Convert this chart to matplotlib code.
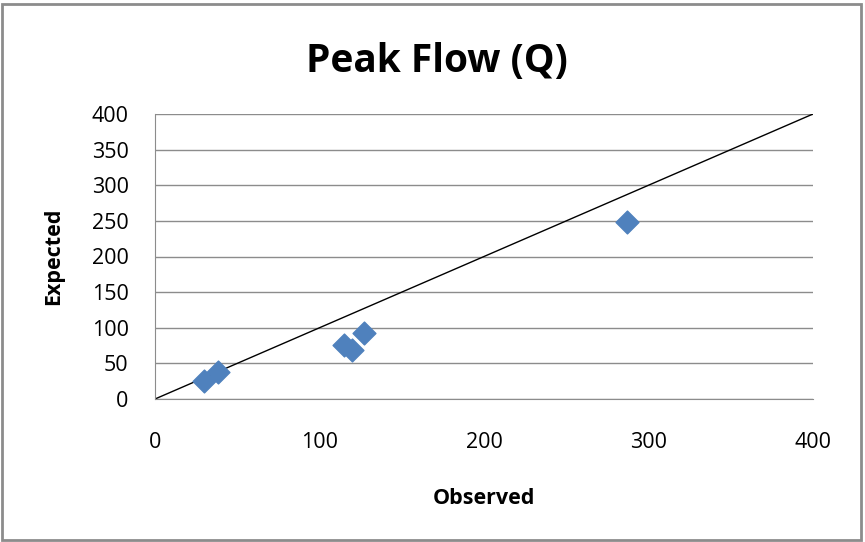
import matplotlib
matplotlib.use('Agg')
from matplotlib import pyplot as plt
from matplotlib.patches import Rectangle

# data
observed = [30, 38, 115, 120, 127, 287]
expected = [25, 38, 76, 69, 92, 248]
line_x = [0, 400]
line_y = [0, 400]
x_ticks = [0, 100, 200, 300, 400]
y_ticks = [0, 50, 100, 150, 200, 250, 300, 350, 400]

plt.rcParams['font.family'] = ['Open Sans', 'DejaVu Sans']

W, H = 865, 542
fig = plt.figure(figsize=(W / 100, H / 100), dpi=100)
ax = fig.add_axes([155 / W, 1 - 399 / H, (813 - 155) / W, (399 - 114) / H])

ax.grid(axis='y', color='#8c8c8c', linewidth=1)
ax.set_axisbelow(True)
ax.plot(line_x, line_y, color='black', linewidth=1)
ax.scatter(observed, expected, marker='D', s=135, color='#4f81bd', zorder=3)

ax.set_xlim(0, 400)
ax.set_ylim(0, 400)
ax.set_xticks(x_ticks)
ax.set_yticks(y_ticks)
ax.tick_params(length=0, labelsize=15.5, colors='black')
ax.tick_params(axis='x', pad=24)
ax.tick_params(axis='y', pad=19)
for side in ['top', 'right']:
    ax.spines[side].set_visible(False)
for side in ['left', 'bottom']:
    ax.spines[side].set_color('#8c8c8c')

ax.set_xlabel('Observed', fontsize=15.5, fontweight='bold', labelpad=25)
ax.set_ylabel('Expected', fontsize=15.5, fontweight='bold', labelpad=20)
fig.text(437 / W, 1 - 72 / H, 'Peak Flow (Q)', fontsize=28, fontweight='bold',
         ha='center', va='baseline')

# outer chart border
fig.patches.append(Rectangle((2 / W, 2 / H), 859 / W, 536 / H, transform=fig.transFigure,
                             fill=False, edgecolor='#8c8c8c', linewidth=2))

plt.savefig('out.png', dpi=100)
